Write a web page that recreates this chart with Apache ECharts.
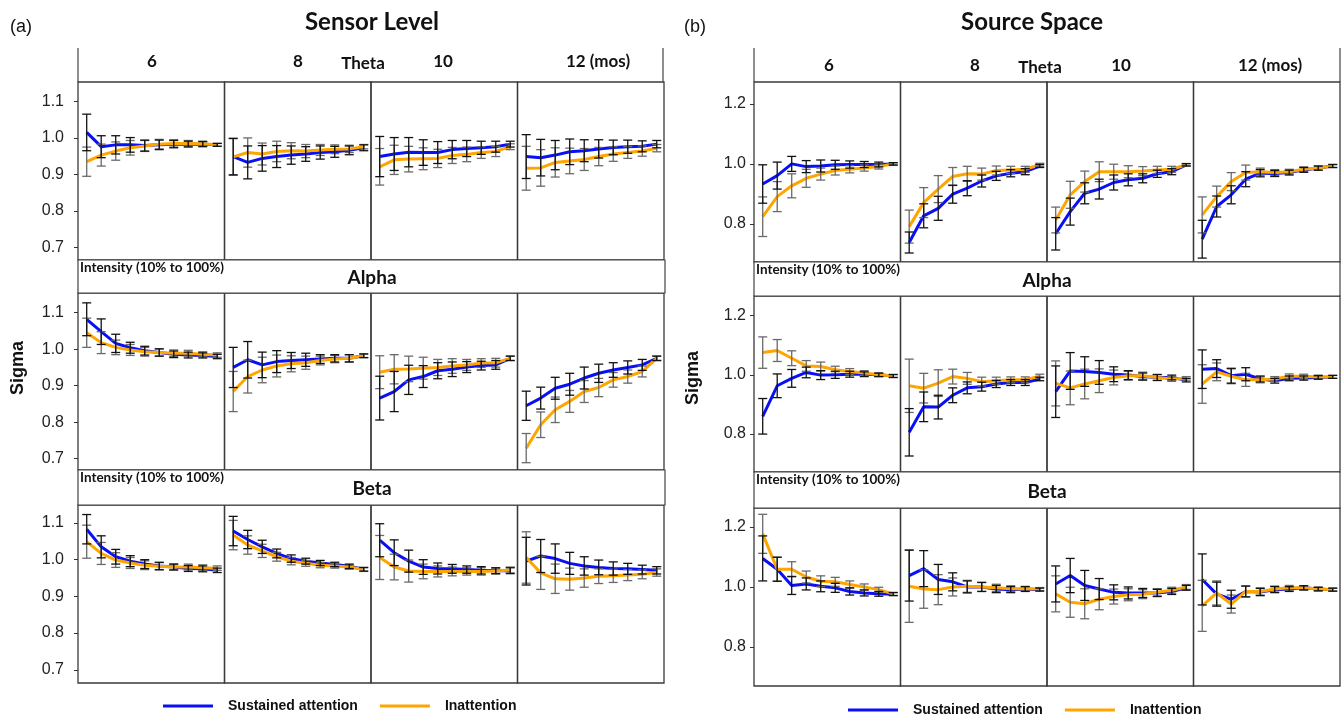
<!DOCTYPE html>
<html><head><meta charset="utf-8">
<script src="https://cdn.jsdelivr.net/npm/echarts@6/dist/echarts.min.js"></script>
<style>html,body{margin:0;padding:0;background:#fff}#c{width:1341px;height:717px}</style>
</head><body><div id="c"></div><script>
// ---------- DATA ----------
const intensity = [10,20,30,40,50,60,70,80,90,100];
const ages = ['6','8','10','12 (mos)'];
const bands = ['Theta','Alpha','Beta'];
const seriesNames = ['Sustained attention','Inattention'];
const sensorTicks = [0.7,0.8,0.9,1.0,1.1];
const sourceTicks = [0.8,1.0,1.2];

// Sensor level: each array = [6, 8, 10, 12 months]
const sensorThetaSA = [
 [1.015,0.976,0.981,0.981,0.979,0.981,0.983,0.983,0.983,0.981],
 [0.949,0.933,0.944,0.949,0.953,0.956,0.960,0.962,0.966,0.973],
 [0.949,0.956,0.961,0.960,0.960,0.968,0.971,0.973,0.976,0.983],
 [0.949,0.946,0.953,0.962,0.965,0.970,0.974,0.976,0.977,0.983]];
const sensorThetaIN = [
 [0.935,0.953,0.964,0.973,0.978,0.983,0.985,0.985,0.984,0.981],
 [0.948,0.960,0.956,0.963,0.965,0.964,0.967,0.969,0.970,0.976],
 [0.921,0.940,0.942,0.943,0.944,0.952,0.955,0.960,0.963,0.976],
 [0.917,0.918,0.933,0.937,0.941,0.949,0.956,0.960,0.964,0.972]];
const sensorThetaSAErr = [
 [0.05,0.03,0.025,0.02,0.015,0.013,0.01,0.008,0.007,0.004],
 [0.05,0.045,0.035,0.03,0.025,0.02,0.018,0.015,0.012,0.008],
 [0.055,0.045,0.04,0.035,0.03,0.025,0.022,0.018,0.015,0.008],
 [0.06,0.05,0.04,0.035,0.03,0.025,0.02,0.018,0.015,0.01]];
const sensorThetaINErr = [
 [0.04,0.03,0.025,0.02,0.015,0.013,0.01,0.008,0.007,0.004],
 [0.05,0.04,0.03,0.028,0.022,0.018,0.015,0.012,0.01,0.006],
 [0.05,0.04,0.035,0.03,0.025,0.022,0.02,0.016,0.014,0.008],
 [0.06,0.05,0.04,0.035,0.03,0.025,0.02,0.016,0.014,0.01]];

const sensorAlphaSA = [
 [1.082,1.048,1.016,1.004,0.996,0.991,0.986,0.984,0.983,0.980],
 [0.950,0.971,0.957,0.966,0.969,0.971,0.973,0.975,0.975,0.982],
 [0.866,0.884,0.916,0.925,0.941,0.945,0.951,0.955,0.957,0.975],
 [0.845,0.866,0.893,0.904,0.921,0.934,0.943,0.950,0.957,0.975]];
const sensorAlphaIN = [
 [1.045,1.018,1.005,0.998,0.993,0.991,0.989,0.989,0.986,0.984],
 [0.884,0.925,0.943,0.954,0.960,0.963,0.969,0.973,0.975,0.982],
 [0.937,0.945,0.946,0.948,0.950,0.954,0.957,0.962,0.963,0.975],
 [0.729,0.793,0.834,0.857,0.884,0.895,0.916,0.925,0.939,0.975]];
const sensorAlphaSAErr = [
 [0.045,0.035,0.025,0.015,0.012,0.01,0.009,0.008,0.007,0.006],
 [0.055,0.05,0.035,0.03,0.022,0.018,0.012,0.01,0.01,0.005],
 [0.06,0.055,0.04,0.03,0.022,0.02,0.015,0.012,0.012,0.006],
 [0.04,0.03,0.03,0.03,0.03,0.025,0.02,0.018,0.015,0.006]];
const sensorAlphaINErr = [
 [0.04,0.03,0.02,0.015,0.012,0.01,0.009,0.008,0.007,0.006],
 [0.055,0.045,0.035,0.03,0.022,0.018,0.012,0.01,0.01,0.005],
 [0.045,0.04,0.035,0.03,0.022,0.02,0.015,0.012,0.012,0.006],
 [0.04,0.035,0.035,0.03,0.03,0.025,0.02,0.018,0.015,0.006]];

const sensorBetaSA = [
 [1.083,1.035,1.008,0.996,0.988,0.983,0.980,0.976,0.975,0.971],
 [1.078,1.055,1.035,1.017,1.003,0.996,0.991,0.987,0.982,0.974],
 [1.053,1.019,0.996,0.980,0.976,0.975,0.973,0.971,0.970,0.970],
 [0.996,1.010,1.003,0.990,0.983,0.979,0.976,0.975,0.973,0.971]];
const sensorBetaIN = [
 [1.049,1.017,0.999,0.991,0.985,0.982,0.980,0.980,0.978,0.977],
 [1.067,1.040,1.024,1.008,0.996,0.990,0.985,0.983,0.980,0.973],
 [1.006,0.980,0.969,0.968,0.968,0.968,0.968,0.968,0.969,0.972],
 [1.006,0.964,0.948,0.947,0.950,0.955,0.956,0.958,0.960,0.965]];
const sensorBetaSAErr = [
 [0.04,0.03,0.02,0.015,0.012,0.01,0.008,0.008,0.008,0.006],
 [0.04,0.025,0.018,0.012,0.01,0.008,0.007,0.006,0.006,0.005],
 [0.045,0.035,0.03,0.02,0.015,0.012,0.01,0.01,0.008,0.008],
 [0.065,0.045,0.04,0.03,0.025,0.02,0.018,0.015,0.012,0.01]];
const sensorBetaINErr = [
 [0.045,0.03,0.02,0.015,0.012,0.01,0.008,0.008,0.008,0.006],
 [0.04,0.025,0.018,0.012,0.01,0.008,0.007,0.006,0.006,0.005],
 [0.06,0.035,0.03,0.02,0.015,0.012,0.01,0.01,0.008,0.008],
 [0.07,0.045,0.04,0.03,0.025,0.02,0.018,0.015,0.012,0.01]];

// Source space
const sourceThetaSA = [
 [0.933,0.961,1.000,0.991,0.993,0.997,0.998,0.998,0.998,1.000],
 [0.738,0.827,0.852,0.899,0.919,0.943,0.960,0.969,0.974,0.993],
 [0.767,0.841,0.902,0.916,0.938,0.947,0.952,0.967,0.974,0.997],
 [0.749,0.858,0.897,0.949,0.969,0.968,0.971,0.980,0.986,0.993]];
const sourceThetaIN = [
 [0.824,0.891,0.927,0.952,0.966,0.978,0.982,0.986,0.991,1.000],
 [0.791,0.871,0.916,0.958,0.967,0.966,0.978,0.980,0.982,0.997],
 [0.813,0.897,0.941,0.974,0.974,0.974,0.976,0.980,0.982,0.997],
 [0.830,0.891,0.941,0.971,0.974,0.971,0.974,0.982,0.986,0.993]];
const sourceThetaSAErr = [
 [0.064,0.045,0.025,0.02,0.02,0.015,0.012,0.01,0.008,0.004],
 [0.035,0.04,0.04,0.03,0.025,0.02,0.015,0.012,0.01,0.005],
 [0.054,0.045,0.035,0.033,0.025,0.02,0.015,0.012,0.01,0.004],
 [0.063,0.035,0.03,0.025,0.012,0.01,0.008,0.008,0.007,0.005]];
const sourceThetaINErr = [
 [0.066,0.05,0.04,0.03,0.02,0.015,0.012,0.01,0.008,0.004],
 [0.055,0.05,0.045,0.03,0.025,0.02,0.015,0.012,0.01,0.005],
 [0.043,0.045,0.035,0.033,0.025,0.02,0.015,0.012,0.01,0.004],
 [0.06,0.035,0.03,0.025,0.012,0.01,0.008,0.008,0.007,0.005]];

const sourceAlphaSA = [
 [0.860,0.963,0.988,1.008,0.999,1.000,1.002,1.002,1.000,0.996],
 [0.806,0.892,0.891,0.931,0.956,0.960,0.969,0.974,0.974,0.986],
 [0.943,1.013,1.011,1.008,1.002,0.999,0.994,0.991,0.991,0.982],
 [1.019,1.021,0.997,1.002,0.986,0.980,0.988,0.989,0.991,0.993]];
const sourceAlphaIN = [
 [1.075,1.082,1.056,1.030,1.028,1.017,1.011,1.006,1.000,0.996],
 [0.963,0.955,0.972,0.994,0.988,0.977,0.980,0.983,0.983,0.996],
 [0.971,0.956,0.969,0.980,0.991,0.997,0.997,0.991,0.986,0.988],
 [0.969,1.010,0.995,0.983,0.983,0.986,0.995,0.995,0.993,0.993]];
const sourceAlphaSAErr = [
 [0.06,0.04,0.03,0.018,0.015,0.012,0.01,0.008,0.006,0.005],
 [0.08,0.05,0.04,0.025,0.02,0.015,0.012,0.01,0.01,0.006],
 [0.087,0.062,0.05,0.04,0.025,0.015,0.012,0.01,0.008,0.006],
 [0.065,0.03,0.025,0.022,0.01,0.008,0.008,0.007,0.006,0.005]];
const sourceAlphaINErr = [
 [0.053,0.037,0.025,0.018,0.015,0.012,0.01,0.008,0.006,0.005],
 [0.09,0.05,0.045,0.025,0.02,0.015,0.012,0.01,0.01,0.006],
 [0.076,0.057,0.05,0.04,0.025,0.015,0.012,0.01,0.008,0.006],
 [0.065,0.03,0.025,0.022,0.01,0.008,0.008,0.007,0.006,0.005]];

const sourceBetaSA = [
 [1.095,1.059,1.005,1.010,1.002,0.997,0.985,0.980,0.977,0.976],
 [1.038,1.061,1.025,1.017,1.000,1.000,0.993,0.991,0.993,0.991],
 [1.010,1.038,1.005,0.993,0.982,0.980,0.980,0.980,0.985,0.997],
 [1.025,0.976,0.959,0.985,0.983,0.991,0.993,0.997,0.993,0.991]];
const sourceBetaIN = [
 [1.177,1.059,1.059,1.033,1.019,1.017,1.008,1.000,0.991,0.977],
 [1.002,0.993,0.991,1.000,1.002,1.000,0.997,0.994,0.994,0.993],
 [0.977,0.949,0.944,0.959,0.968,0.974,0.976,0.982,0.989,1.000],
 [0.937,0.980,0.943,0.985,0.985,0.993,0.997,0.997,0.993,0.991]];
const sourceBetaSAErr = [
 [0.075,0.04,0.03,0.02,0.018,0.015,0.012,0.01,0.008,0.005],
 [0.085,0.06,0.05,0.03,0.02,0.015,0.012,0.01,0.008,0.005],
 [0.06,0.057,0.05,0.035,0.025,0.02,0.015,0.012,0.01,0.008],
 [0.085,0.04,0.03,0.018,0.012,0.01,0.008,0.007,0.006,0.005]];
const sourceBetaINErr = [
 [0.065,0.04,0.025,0.02,0.018,0.015,0.012,0.01,0.008,0.005],
 [0.12,0.064,0.05,0.03,0.02,0.015,0.012,0.01,0.008,0.005],
 [0.06,0.05,0.05,0.035,0.025,0.02,0.015,0.012,0.01,0.008],
 [0.085,0.04,0.03,0.018,0.012,0.01,0.008,0.007,0.006,0.005]];

// ---------- LAYOUT ----------
const BLUE = '#0a10f5', ORANGE = '#ffa500';
const BAR_SA = '#111111', BAR_IN = '#6a6a6a';
const panels = [
 {x:[78,224.5,371,517.5], w:146.5, rows:[[82,260],[293,470],[505,683]],
  ranges:[[0.666,1.153],[0.669,1.154],[0.664,1.149]], ticks:sensorTicks, labelMargin:14,
  sa:[sensorThetaSA,sensorAlphaSA,sensorBetaSA], inn:[sensorThetaIN,sensorAlphaIN,sensorBetaIN],
  saE:[sensorThetaSAErr,sensorAlphaSAErr,sensorBetaSAErr], inE:[sensorThetaINErr,sensorAlphaINErr,sensorBetaINErr]},
 {x:[754,900.5,1047,1193.5], w:146.5, rows:[[82,262],[296,472],[508,686]],
  ranges:[[0.673,1.273],[0.672,1.266],[0.670,1.263]], ticks:sourceTicks, labelMargin:8,
  sa:[sourceThetaSA,sourceAlphaSA,sourceBetaSA], inn:[sourceThetaIN,sourceAlphaIN,sourceBetaIN],
  saE:[sourceThetaSAErr,sourceAlphaSAErr,sourceBetaSAErr], inE:[sourceThetaINErr,sourceAlphaINErr,sourceBetaINErr]}
];

function errRender(color){
  return function(params, api){
    const x = api.value(0), lo = api.value(1), hi = api.value(2);
    const a = api.coord([x, lo]), b = api.coord([x, hi]);
    const hw = 4.5;
    const st = {stroke: color, lineWidth: 1.3, fill: null};
    return {type:'group', children:[
      {type:'line', shape:{x1:a[0],y1:a[1],x2:b[0],y2:b[1]}, style:st},
      {type:'line', shape:{x1:a[0]-hw,y1:a[1],x2:a[0]+hw,y2:a[1]}, style:st},
      {type:'line', shape:{x1:b[0]-hw,y1:b[1],x2:b[0]+hw,y2:b[1]}, style:st}
    ]};
  };
}

const grid = [], xAxis = [], yAxis = [], series = [];
let gi = 0;
panels.forEach(p => {
  for (let r = 0; r < 3; r++) {
    for (let c = 0; c < 4; c++) {
      grid.push({left:p.x[c], top:p.rows[r][0], width:p.w, height:p.rows[r][1]-p.rows[r][0],
        show:true, borderColor:'#3a3a3a', borderWidth:1.3, backgroundColor:'transparent'});
      xAxis.push({gridIndex:gi, type:'value', min:4, max:105, show:false});
      yAxis.push({gridIndex:gi, type:'value', min:p.ranges[r][0], max:p.ranges[r][1],
        splitLine:{show:false}, axisLine:{show:false},
        axisTick:{show:c===0, customValues:p.ticks, length:4, lineStyle:{color:'#333'}},
        axisLabel:{show:c===0, customValues:p.ticks, formatter:v=>v.toFixed(1), fontSize:16,
          color:'#222', fontFamily:'Liberation Sans', margin:p.labelMargin}});
      const sets = [
        {name:seriesNames[0], vals:p.sa[r][c], err:p.saE[r][c], color:BLUE, bar:BAR_SA},
        {name:seriesNames[1], vals:p.inn[r][c], err:p.inE[r][c], color:ORANGE, bar:BAR_IN}
      ];
      sets.forEach(s => {
        series.push({type:'line', name:s.name, xAxisIndex:gi, yAxisIndex:gi, symbol:'none',
          data:intensity.map((x,k)=>[x, s.vals[k]]), lineStyle:{color:s.color, width:3},
          itemStyle:{color:s.color}, z:2, silent:true});
      });
      sets.slice().reverse().forEach(s => {
        series.push({type:'custom', xAxisIndex:gi, yAxisIndex:gi, silent:true, z:3,
          data:intensity.map((x,k)=>[x, s.vals[k]-s.err[k], s.vals[k]+s.err[k]]),
          renderItem:errRender(s.bar)});
      });
      gi++;
    }
  }
});

// ---------- DECORATION ----------
const bold = (sz) => 'bold ' + sz + 'px Lato';
const graphic = [];
function txt(x, y, text, font, align, vAlign, rot){
  graphic.push({type:'text', x:x, y:y, rotation:rot||0, z:10,
    style:{text:text, font:font, fill:'#111', align:align||'center', verticalAlign:vAlign||'middle'}});
}
function rect(x, y, w, h){
  graphic.push({type:'rect', shape:{x:x,y:y,width:w,height:h}, z:0,
    style:{fill:'#fff', stroke:'#444', lineWidth:1.2}});
}
function vline(x, y1, y2){
  graphic.push({type:'line', shape:{x1:x,y1:y1,x2:x,y2:y2}, z:1, style:{stroke:'#444', lineWidth:1.2}});
}
// left panel
txt(10, 27, '(a)', '18px Liberation Sans', 'left');
txt(372, 22, 'Sensor Level', bold(24));
vline(78, 48, 82); vline(663, 48, 82);
const hdrL = [[152,62],[298,62],[443,62],[598,62]];
ages.forEach((a,i)=>txt(hdrL[i][0], hdrL[i][1], a, bold(17)));
txt(363, 64, bands[0], bold(17));
rect(78, 260, 587, 33); rect(78, 470, 587, 35);
txt(80, 268, 'Intensity (10% to 100%)', bold(13.5), 'left');
txt(372, 278, bands[1], bold(19));
txt(80, 478, 'Intensity (10% to 100%)', bold(13.5), 'left');
txt(372, 489, bands[2], bold(19));
txt(18, 368, 'Sigma', 'bold 18px Liberation Sans', 'center', 'middle', Math.PI/2);
// right panel
txt(684, 27, '(b)', '18px Liberation Sans', 'left');
txt(1032, 22, 'Source Space', bold(24));
vline(754, 48, 82); vline(1340, 48, 82);
const hdrR = [[829,66],[975,66],[1121,66],[1270,66]];
ages.forEach((a,i)=>txt(hdrR[i][0], hdrR[i][1], a, bold(17)));
txt(1040, 68, bands[0], bold(17));
rect(754, 262, 586, 34); rect(754, 472, 586, 36);
txt(756, 270, 'Intensity (10% to 100%)', bold(13.5), 'left');
txt(1047, 281, bands[1], bold(19));
txt(756, 480, 'Intensity (10% to 100%)', bold(13.5), 'left');
txt(1047, 492, bands[2], bold(19));
txt(693, 378, 'Sigma', 'bold 18px Liberation Sans', 'center', 'middle', Math.PI/2);

const legendBase = {data:seriesNames, icon:'rect', itemWidth:50, itemHeight:3, itemGap:22, selectedMode:false,
  textStyle:{fontFamily:'Liberation Sans', fontWeight:'bold', fontSize:14, color:'#111', padding:[0,0,0,10]}};

const chart = echarts.init(document.getElementById('c'), null, {renderer:'canvas'});
chart.setOption({
  animation:false,
  backgroundColor:'#fff',
  grid, xAxis, yAxis, series, graphic,
  legend:[Object.assign({left:158, top:694}, legendBase), Object.assign({left:843, top:698}, legendBase)]
});
</script></body></html>
